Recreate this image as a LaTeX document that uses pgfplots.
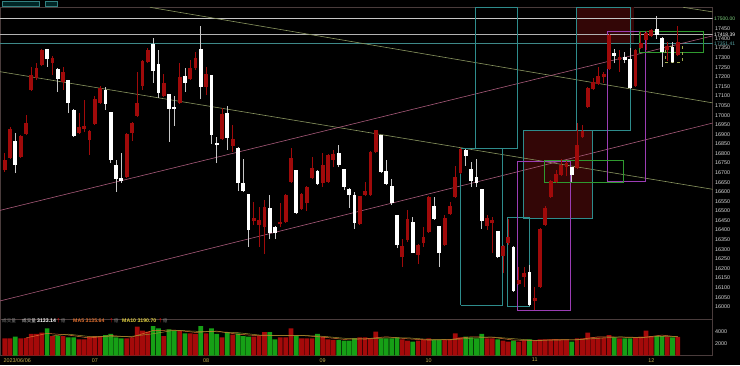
\documentclass[border=0pt]{standalone}
\usepackage{pgfplots}
\pgfplotsset{compat=1.18}
\usepackage{pgfplotstable}
\usepackage{fontspec}
\setmainfont{Liberation Sans}
\newfontfamily\cjk{Noto Sans CJK TC}
\definecolor{candlered}{HTML}{A00A0A}
\definecolor{volred}{HTML}{A50A0A}
\definecolor{volgreen}{HTML}{16A016}
\definecolor{tealc}{HTML}{2E8C8C}
\definecolor{purplec}{HTML}{9B3DB4}
\definecolor{greenbox}{HTML}{2F9A2F}
\definecolor{lightgreen}{HTML}{7FD07F}
\definecolor{olivec}{HTML}{8A9660}
\definecolor{pinkc}{HTML}{A85A7A}
\definecolor{darkfill}{HTML}{330606}
\definecolor{axisc}{HTML}{4A3C3C}
\definecolor{lblc}{HTML}{D8D8D8}
\definecolor{datec}{HTML}{C8B050}
\definecolor{ma5c}{HTML}{E07030}
\definecolor{ma10c}{HTML}{E0D040}
\definecolor{wickw}{HTML}{C8C8C8}

\pgfplotstableread{
i o h l c
0 16714 16802 16703 16766
1 16776 16938 16771 16928
3 16782 16896 16776 16891
4 16902 17001 16896 16959
5 17131 17252 17126 17210
6 17194 17272 17184 17246
7 17262 17346 17257 17340
9 17272 17309 17210 17299
11 17173 17252 17131 17225
14 16907 17011 16902 16938
15 16928 17079 16912 16943
16 16870 16923 16792 16917
17 16954 17100 16949 17084
18 17064 17152 17058 17142
23 16677 16907 16672 16902
24 16907 16964 16865 16959
25 16996 17225 16990 17064
26 17152 17288 17131 17283
27 17278 17351 17272 17340
30 17100 17215 17095 17168
33 17064 17272 17058 17199
35 17189 17288 17184 17246
36 17246 17330 17236 17299
38 17147 17252 17105 17215
41 16876 17037 16870 17006
43 16839 16949 16808 16876
47 16447 16547 16426 16463
48 16426 16520 16312 16453
49 16416 16557 16275 16520
52 16432 16541 16416 16442
53 16442 16588 16437 16583
54 16651 16829 16646 16776
56 16510 16594 16505 16588
57 16541 16630 16500 16625
58 16672 16782 16667 16724
60 16646 16802 16625 16740
61 16651 16797 16646 16792
62 16766 16818 16729 16797
67 16432 16578 16426 16578
68 16583 16651 16578 16604
69 16583 16813 16578 16808
70 16808 16923 16802 16923
75 16259 16353 16207 16317
76 16348 16505 16338 16458
78 16270 16327 16223 16322
79 16332 16416 16312 16364
80 16390 16578 16385 16573
83 16322 16479 16317 16463
84 16484 16547 16479 16526
85 16573 16735 16567 16677
86 16698 16829 16693 16823
91 16421 16479 16400 16463
92 16437 16468 16280 16453
94 16265 16322 16176 16317
95 16332 16458 16322 16364
97 16118 16207 16113 16140
98 16155 16207 16103 16176
100 16030 16103 15983 16045
101 16103 16411 16098 16406
102 16426 16526 16421 16515
103 16573 16661 16567 16656
104 16651 16714 16646 16693
105 16688 16771 16682 16740
106 16729 16761 16682 16750
108 16724 16959 16719 16844
109 16886 16949 16881 16917
110 17043 17147 17037 17142
111 17137 17194 17131 17173
112 17163 17252 17158 17205
113 17199 17225 17168 17215
114 17241 17424 17236 17419
116 17288 17340 17225 17304
119 17152 17346 17147 17340
120 17351 17434 17346 17377
121 17393 17440 17340 17429
122 17413 17450 17408 17445
125 17340 17382 17283 17361
127 17314 17466 17309 17382
}\redtab

\pgfplotstableread{
i o h l c
2 16865 16907 16698 16740
8 17346 17346 17252 17293
10 17241 17246 17121 17189
12 17184 17184 17011 17064
13 17027 17032 16886 16891
19 17131 17147 17027 17058
20 17017 17017 16750 16766
21 16740 16766 16599 16667
22 16672 16802 16646 16656
28 17372 17403 17168 17231
29 17267 17340 17090 17116
31 17111 17111 16860 17032
32 17043 17100 16943 17032
34 17205 17246 17121 17168
37 17346 17466 17084 17147
39 17210 17210 16849 16896
40 16855 16886 16750 16844
42 17011 17048 16818 16881
44 16829 16834 16604 16646
45 16646 16771 16599 16604
46 16588 16588 16312 16400
50 16515 16583 16353 16385
51 16416 16421 16353 16385
55 16714 16714 16484 16489
59 16708 16714 16635 16641
63 16802 16844 16729 16740
64 16719 16719 16609 16625
65 16615 16620 16515 16583
66 16583 16599 16406 16437
71 16896 16896 16698 16703
72 16708 16766 16635 16641
73 16630 16667 16531 16541
74 16479 16479 16306 16322
77 16442 16468 16280 16280
81 16526 16573 16453 16458
82 16421 16421 16207 16280
87 16818 16823 16735 16787
88 16719 16755 16625 16656
89 16677 16771 16625 16646
90 16615 16615 16406 16447
93 16395 16395 16254 16259
96 16312 16317 16077 16082
99 16181 16218 16004 16009
107 16729 16729 16651 16688
115 17325 17346 17272 17309
117 17304 17330 17272 17288
118 17293 17351 17137 17142
123 17450 17518 17398 17419
124 17403 17408 17252 17330
126 17356 17382 17272 17278
}\whitetab

\pgfplotstableread{
i v
0 2900
1 2900
3 2900
4 2950
5 3620
6 3620
7 3840
9 3280
11 3280
14 2730
15 2730
16 3170
17 3280
18 3280
23 2900
24 3060
25 4840
26 4170
27 4010
30 3280
33 4170
35 3730
36 3620
38 3730
41 3060
43 3500
47 3170
48 3280
49 3950
52 3060
53 3060
54 4560
56 2900
57 2900
58 2900
60 3170
61 2730
62 2620
67 3060
68 3060
69 2900
70 4010
75 2730
76 2510
78 2510
79 2730
80 2900
83 2620
84 2730
85 3730
86 3060
91 2900
92 2900
94 2510
95 2340
97 2340
98 2510
100 2510
101 2730
102 2730
103 2730
104 2730
105 2620
106 2620
108 2900
109 2900
110 3840
111 3060
112 3060
113 3060
114 3450
116 2900
119 3060
120 3170
121 4170
122 3280
125 3170
127 3133
}\redvol

\pgfplotstableread{
i v
2 3170
8 4560
10 3280
12 3060
13 3060
19 3450
20 3620
21 3060
22 2900
28 4950
29 4560
31 4400
32 4170
34 3730
37 4950
39 4560
40 3620
42 3950
44 3730
45 3280
46 3170
50 3950
51 2730
55 3280
59 3620
63 2620
64 2510
65 2510
66 2900
71 2900
72 2900
73 2900
74 3060
77 2340
81 2620
82 2620
87 3170
88 3060
89 2900
90 3620
93 2730
96 2510
99 2730
107 2340
115 3060
117 2900
118 2900
123 3280
124 3280
126 3060
}\greenvol

\pgfplotsset{
  common/.style={
    scale only axis, anchor=south west,
    width=712.7pt,
    xmin=-0.887, xmax=133.58,
    axis line style={draw=axisc, line width=0.6pt},
    major tick length=0pt,
    tick style={draw=none},
    yticklabel pos=right,
    scaled y ticks=false,
    scaled x ticks=false,
    /pgf/number format/.cd, 1000 sep={}, assume math mode=true,
  },
}

\begin{document}
\begin{tikzpicture}[x=1pt,y=1pt]
\fill[black] (0,0) rectangle (740,365);
% toolbar
\fill[fill=black!70!teal, draw=teal!60!gray, line width=0.3pt] (2,359) rectangle (39,364);
\fill[fill=black!70!teal, draw=teal!60!gray, line width=0.3pt] (45,359) rectangle (57,364);

\begin{axis}[common,
  at={(0pt,46pt)}, height=311.7pt,
  ymin=15936, ymax=17563,
  xtick=\empty,
  ytick={16000,16050,16100,16150,16200,16250,16300,16350,16400,16450,16500,16550,16600,16650,16700,16750,16800,16850,16900,16950,17000,17050,17100,17150,17200,17250,17300,17350,17400,17450},
  yticklabel style={font=\fontsize{5.4}{6}\selectfont, text=lblc, xshift=-1pt},
  extra y ticks={17505,17422,17375},
  extra y tick labels={{\textcolor{lightgreen}{17500.00}},{\textcolor{white}{17418.39}},{\textcolor{tealc!80!white}{17351.41}}},
  extra y tick style={yticklabel style={font=\fontsize{5}{6}\selectfont, xshift=-1pt}},
  clip mode=individual,
]
% dark filled zones
\addplot[draw=none, fill=darkfill, forget plot] coordinates {(97.8,16463) (110.8,16463) (110.8,16919) (97.8,16919)};
\addplot[draw=none, fill=darkfill, forget plot] coordinates {(107.9,17377) (118.7,17377) (118.7,17563) (107.9,17563)};
% horizontal levels
\addplot[color=gray!45, line width=0.5pt, forget plot] coordinates {(-0.887,17505) (133.58,17505)};
\addplot[color=gray!60, line width=0.5pt, forget plot] coordinates {(-0.887,17422) (133.58,17422)};
\addplot[color=tealc!80!gray, line width=0.5pt, forget plot] coordinates {(-0.887,17375) (133.58,17375)};
% trend lines
\addplot[color=olivec, line width=0.6pt, forget plot] coordinates {(-0.887,17227) (133.58,16613)};
\addplot[color=olivec, line width=0.6pt, forget plot] coordinates {(27.4,17563) (133.58,17064)};
\addplot[color=olivec, line width=0.6pt, forget plot] coordinates {(128.0,17563) (133.58,17539)};
\addplot[color=pinkc, line width=0.6pt, forget plot] coordinates {(-0.887,16503) (133.58,17414)};
\addplot[color=pinkc, line width=0.6pt, forget plot] coordinates {(-0.887,16030) (133.58,16959)};
% teal boxes
\addplot[color=tealc, line width=0.6pt, forget plot] coordinates {(86.0,16009) (93.9,16009) (93.9,16827) (86.0,16827) (86.0,16009)};
\addplot[color=tealc, line width=0.6pt, forget plot] coordinates {(88.7,16827) (96.7,16827) (96.7,17563) (88.7,17563) (88.7,16827)};
\addplot[color=tealc, line width=0.6pt, forget plot] coordinates {(94.8,16004) (99.0,16004) (99.0,16468) (94.8,16468) (94.8,16004)};
\addplot[color=tealc, line width=0.6pt, forget plot] coordinates {(97.8,16463) (110.8,16463) (110.8,16919) (97.8,16919) (97.8,16463)};
\addplot[color=tealc, line width=0.6pt, forget plot] coordinates {(107.8,16919) (118.0,16919) (118.0,17563) (107.8,17563) (107.8,16919)};
% purple boxes
\addplot[color=purplec, line width=0.6pt, forget plot] coordinates {(96.7,15983) (106.8,15983) (106.8,16761) (96.7,16761) (96.7,15983)};
\addplot[color=purplec, line width=0.6pt, forget plot] coordinates {(113.7,16653) (120.8,16653) (120.8,17436) (113.7,17436) (113.7,16653)};
% green boxes
\addplot[color=greenbox, line width=0.6pt, forget plot] coordinates {(101.8,16651) (116.7,16651) (116.7,16764) (101.8,16764) (101.8,16651)};
\addplot[color=greenbox, line width=0.6pt, forget plot] coordinates {(119.7,17326) (131.8,17326) (131.8,17436) (119.7,17436) (119.7,17326)};
\addplot[color=olivec!80!yellow, line width=0.5pt, dashed, forget plot] coordinates {(124.6,17278) (127.8,17278) (127.8,17361) (124.6,17361) (124.6,17278)};
% wicks
\addplot[draw=none, forget plot, error bars/.cd, y dir=plus, y explicit, error mark=none,
  error bar style={draw=candlered, line width=0.8pt}]
  table[x=i, y=l, y error plus expr={\thisrow{h}-\thisrow{l}}] {\redtab};
\addplot[draw=none, forget plot, error bars/.cd, y dir=plus, y explicit, error mark=none,
  error bar style={draw=wickw, line width=0.8pt}]
  table[x=i, y=l, y error plus expr={\thisrow{h}-\thisrow{l}}] {\whitetab};
% bodies
\addplot[draw=none, forget plot, error bars/.cd, y dir=plus, y explicit, error mark=none,
  error bar style={draw=candlered, line width=3.8pt}]
  table[x=i, y=o, y error plus expr={\thisrow{c}-\thisrow{o}}] {\redtab};
\addplot[draw=none, forget plot, error bars/.cd, y dir=plus, y explicit, error mark=none,
  error bar style={draw=white, line width=3.8pt}]
  table[x=i, y=c, y error plus expr={\thisrow{o}-\thisrow{c}}] {\whitetab};
\end{axis}

\begin{axis}[common,
  at={(0pt,9.3pt)}, height=36.7pt,
  ymin=0, ymax=6117,
  ytick={2000,4000},
  yticklabel style={font=\fontsize{5.4}{6}\selectfont, text=lblc, xshift=-1pt},
  xtick={17,38,60,80,100,122},
  xticklabels={07,08,09,10,11,12},
  xticklabel style={font=\fontsize{5.4}{6}\selectfont, text=datec, yshift=1pt},
  extra x ticks={0},
  extra x tick labels={2023/06/06},
  extra x tick style={xticklabel style={anchor=north west, xshift=-4.5pt}},
]
\addplot[ybar, bar width=4.7pt, bar shift=0pt, fill=volred, draw=none, forget plot] table[x=i, y=v] {\redvol};
\addplot[ybar, bar width=4.7pt, bar shift=0pt, fill=volgreen, draw=none, forget plot] table[x=i, y=v] {\greenvol};
\addplot[color=ma5c, line width=0.5pt, forget plot] coordinates {(4,2964) (8,3718) (12,3448) (16,2950) (20,3360) (24,3108) (28,4206) (32,4272) (36,3884) (40,4096) (44,3572) (48,3326) (52,3394) (56,3372) (60,3098) (64,2730) (68,2808) (72,3154) (76,2820) (80,2598) (84,2698) (88,3150) (92,3076) (96,2598) (100,2520) (104,2686) (108,2642) (112,3152) (116,3106) (120,2986) (124,3436) (127,3136)};
\addplot[color=ma10c!70!black, line width=0.5pt, forget plot] coordinates {(9,3300) (12,3583) (16,3199) (20,3155) (24,3234) (28,3657) (32,4239) (36,4078) (40,3990) (44,3834) (48,3449) (52,3360) (56,3383) (60,3235) (64,2914) (68,2769) (72,2981) (76,2987) (80,2709) (84,2648) (88,2924) (92,3113) (96,2837) (100,2559) (104,2603) (108,2664) (112,2897) (116,3129) (120,3046) (124,3211) (127,3191)};
\end{axis}

% volume title
\node[anchor=west, inner sep=0, font=\fontsize{4.6}{5}\selectfont\cjk, text=gray] at (2,44.3) {成交量};
\node[anchor=west, inner sep=0, font=\fontsize{4.6}{5}\selectfont\cjk, text=lblc] at (22,44.3) {成交量};
\node[anchor=west, inner sep=0, font=\fontsize{5.2}{6}\selectfont\bfseries, text=white] at (37,44.3) {3133.14};
\node[anchor=west, inner sep=0, font=\fontsize{4.6}{5}\selectfont\cjk] at (56,44.3) {\textcolor{red}{↑}\textcolor{gray}{億}};
\node[anchor=west, inner sep=0, font=\fontsize{5.2}{6}\selectfont\bfseries, text=ma5c] at (73,44.3) {MA5 3135.64};
\node[anchor=west, inner sep=0, font=\fontsize{4.6}{5}\selectfont\cjk] at (109,44.3) {\textcolor{red}{↑}\textcolor{gray}{億}};
\node[anchor=west, inner sep=0, font=\fontsize{5.2}{6}\selectfont\bfseries, text=ma10c] at (122,44.3) {MA10 3190.70};
\node[anchor=west, inner sep=0, font=\fontsize{4.6}{5}\selectfont\cjk] at (158,44.3) {\textcolor{red}{↑}\textcolor{gray}{億}};

\pgfresetboundingbox
\path[use as bounding box] (0,0) rectangle (740,365);
\end{tikzpicture}
\end{document}
